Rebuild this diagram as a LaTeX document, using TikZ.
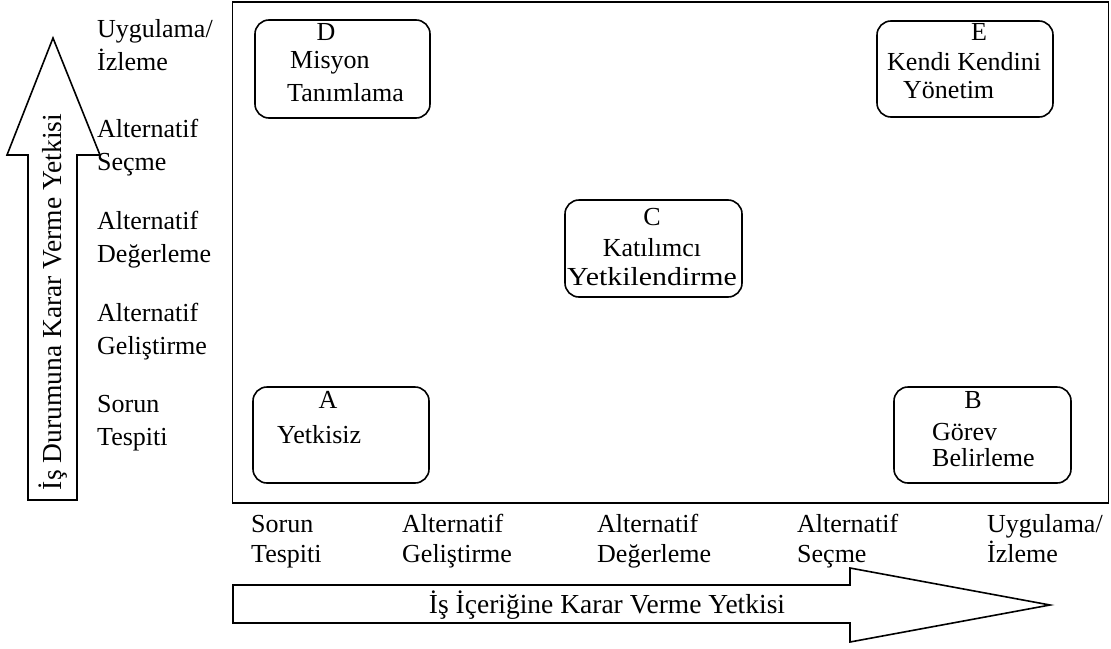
\documentclass[tikz,border=0pt]{standalone}
\usepackage{fontspec}
\setmainfont{Liberation Serif}
\newcommand\myfs{\fontsize{26}{33}\selectfont}
\newcommand\myfsb{\fontsize{27.5}{33}\selectfont}
\begin{document}
\begin{tikzpicture}[x=1pt,y=-1pt,
  lbl/.style={inner sep=0pt, font=\myfs},
  wl/.style={lbl, anchor=west},
  bl/.style={lbl, anchor=base west},
  box/.style={draw, line width=1.6pt, rounded corners=14pt, inner sep=0pt},
  frame/.style={draw, line width=1.8pt, inner sep=0pt},
  blockarrow/.style={draw, line width=1.6pt, line join=miter}]
\useasboundingbox (0,0) rectangle (1111,648);

% main frame
\node[frame, minimum width=876pt, minimum height=501pt] (F) at (670.5,252.5) {};

% vertical block arrow
\draw[blockarrow] (28,500) -- (28,155) -- (7,155) -- (53,38) -- (100,155) -- (77,155) -- (77,500) -- cycle;
\node[lbl, font=\myfsb, rotate=90] (vt) at (53,302) {İş Durumuna Karar Verme Yetkisi};

% horizontal block arrow
\draw[blockarrow] (233,585) -- (850,585) -- (850,568) -- (1050,605) -- (850,642) -- (850,623) -- (233,623) -- cycle;
\node[lbl, font=\myfsb] (ht) at (607,605) {İş İçeriğine Karar Verme Yetkisi};

% left column labels
\node[bl] (l5a) at (97,37) {Uygulama/};
\node[bl] (l5b) at (97,70) {İzleme};
\node[bl] (l4a) at (97,137) {Alternatif};
\node[bl] (l4b) at (97,170) {Seçme};
\node[bl] (l3a) at (97,229) {Alternatif};
\node[bl] (l3b) at (97,262) {Değerleme};
\node[bl] (l2a) at (97,321) {Alternatif};
\node[bl] (l2b) at (97,354) {Geliştirme};
\node[bl] (l1a) at (97,412) {Sorun};
\node[bl] (l1b) at (97,445) {Tespiti};

% bottom labels
\node[bl] (b1a) at (251,532) {Sorun};
\node[bl] (b1b) at (251,562) {Tespiti};
\node[bl] (b2a) at (402,532) {Alternatif};
\node[bl] (b2b) at (402,562) {Geliştirme};
\node[bl] (b3a) at (597,532) {Alternatif};
\node[bl] (b3b) at (597,562) {Değerleme};
\node[bl] (b4a) at (797,532) {Alternatif};
\node[bl] (b4b) at (797,562) {Seçme};
\node[bl] (b5a) at (987,532) {Uygulama/};
\node[bl] (b5b) at (987,562) {İzleme};

% boxes
\node[box, minimum width=175pt, minimum height=98pt] (D) at (342.5,69) {};
\node[lbl] (D1) at (326,32) {D};
\node[wl] (D2) at (290,63) {Misyon};
\node[wl] (D3) at (287,93) {Tanımlama};

\node[box, minimum width=177pt, minimum height=97pt] (C) at (653.5,248.5) {};
\node[lbl] (C1) at (652,217) {C};
\node[lbl] (C2) at (652,248) {Katılımcı};
\node[lbl, xscale=1.15, transform shape] (C3) at (652,277) {Yetkilendirme};

\node[box, minimum width=176pt, minimum height=96pt] (E) at (965,69) {};
\node[lbl] (E1) at (979,32) {E};
\node[wl] (E2) at (887,62) {Kendi Kendini};
\node[wl] (E3) at (903,90) {Yönetim};

\node[box, minimum width=176pt, minimum height=96pt] (A) at (341,435) {};
\node[lbl] (A1) at (328,400) {A};
\node[wl] (A2) at (277,435) {Yetkisiz};

\node[box, minimum width=177pt, minimum height=96pt] (B) at (982.5,435) {};
\node[lbl] (B1) at (973,400) {B};
\node[wl] (B2) at (932,432) {Görev};
\node[wl] (B3) at (932,458) {Belirleme};
\end{tikzpicture}
\end{document}
